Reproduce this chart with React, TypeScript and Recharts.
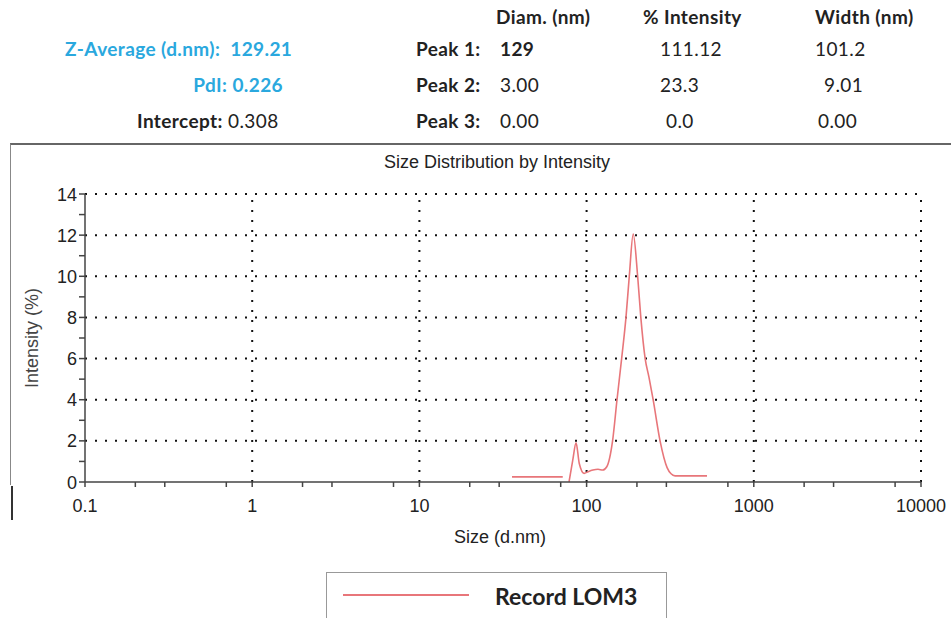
import { LineChart, Line, XAxis, YAxis, ReferenceLine } from "recharts";

// size (d.nm) vs intensity (%)
const sizes = [
  35.8, 50, 72, 75, 78.5, 82.6, 86.5, 90.4, 96.6, 102, 109, 117, 125, 132, 143,
  152, 162, 172, 180, 190, 202, 211, 224, 236, 250, 275, 303, 320, 338, 400, 525,
];
const intensity: (number | null)[] = [
  0.25, 0.25, 0.25, null, 0, 1.05, 1.9, 0.9, 0.42, 0.5, 0.58, 0.62, 0.58, 0.74, 2.0,
  4.0, 6.0, 8.0, 10.0, 12.05, 10.0, 8.0, 6.0, 5.1, 4.0, 2.0, 0.7, 0.4, 0.3, 0.3, 0.3,
];

const majorX = [0.1, 1, 10, 100, 1000, 10000];
const minorX = [0.2, 0.3, 0.7, 2, 3, 7, 20, 30, 70, 200, 300, 700, 2000, 3000, 7000];
const yTicks = [0, 1, 2, 3, 4, 5, 6, 7, 8, 9, 10, 11, 12, 13, 14];
const yGrid = [2, 4, 6, 8, 10, 12, 14];
const xGrid = [1, 10, 100, 1000, 10000];

const headCols = ["Diam. (nm)", "% Intensity", "Width (nm)"];
const peakNames = ["Peak 1:", "Peak 2:", "Peak 3:"];
const peakDiam = ["129", "3.00", "0.00"];
const peakInt = ["111.12", "23.3", "0.0"];
const peakWidth = ["101.2", "9.01", "0.00"];

const data = sizes.map((s, i) => ({ size: s, value: intensity[i] }));

const BLUE = "#2aa8de";
const RED = "#e8767a";
const hdrFont = "Lato, 'Open Sans', sans-serif";
const axFont = "'Liberation Sans', Arial, sans-serif";

const rowTop = [7, 39, 75, 111];

function Cell({ left, top, text, bold, color, right }: any) {
  return (
    <div
      style={{
        position: "absolute",
        left: right === undefined ? left : undefined,
        right: right !== undefined ? 951 - right : undefined,
        top,
        fontFamily: hdrFont,
        fontSize: 19,
        letterSpacing: 0.4,
        lineHeight: "20px",
        fontWeight: bold ? 700 : 400,
        color: color || "#222",
        whiteSpace: "pre",
      }}
    >
      {text}
    </div>
  );
}

const XTick = (props: any) => {
  const { x, y, payload } = props;
  if (!majorX.includes(payload.value)) return null;
  return (
    <text x={x} y={y + 23} textAnchor="middle" fontFamily={axFont} fontSize={18} fill="#222">
      {payload.value}
    </text>
  );
};

const YTick = (props: any) => {
  const { x, y, payload } = props;
  if (payload.value % 2 !== 0) return null;
  return (
    <text x={x} y={y} dy={6.5} textAnchor="end" fontFamily={axFont} fontSize={18} fill="#222">
      {payload.value}
    </text>
  );
};

export default function App() {
  return (
    <div style={{ position: "absolute", left: 0, top: 0, width: 951, height: 618, background: "#fff", overflow: "hidden" }}>
      {/* header table */}
      {headCols.map((c, i) => (
        <Cell key={c} left={[496, 643, 815][i]} top={rowTop[0]} text={c} bold />
      ))}
      <Cell left={65} top={rowTop[1]} text={"Z-Average (d.nm):  129.21"} bold color={BLUE} />
      <Cell right={283} top={rowTop[2]} text={"PdI: 0.226"} bold color={BLUE} />
      <div
        style={{
          position: "absolute",
          left: 137,
          top: rowTop[3],
          fontFamily: hdrFont,
          fontSize: 19,
          letterSpacing: 0.4,
          lineHeight: "20px",
          color: "#222",
          whiteSpace: "pre",
        }}
      >
        <b>Intercept:</b> 0.308
      </div>
      {peakNames.map((p, i) => (
        <div key={p}>
          <Cell left={416} top={rowTop[i + 1]} text={p} bold />
          <Cell left={500} top={rowTop[i + 1]} text={peakDiam[i]} bold={i === 0} />
          <Cell left={[660, 660, 666][i]} top={rowTop[i + 1]} text={peakInt[i]} />
          <Cell left={[815, 824, 818][i]} top={rowTop[i + 1]} text={peakWidth[i]} />
        </div>
      ))}

      {/* frame */}
      <div style={{ position: "absolute", left: 10, top: 143, width: 941, height: 340, borderTop: "2px solid #666", borderLeft: "1px solid #888" }} />
      <div style={{ position: "absolute", left: 11, top: 486, width: 2, height: 34, background: "#333" }} />

      <div
        style={{
          position: "absolute",
          left: 0,
          width: 994,
          top: 152,
          textAlign: "center",
          fontFamily: axFont,
          fontSize: 18,
          color: "#222",
        }}
      >
        Size Distribution by Intensity
      </div>

      <div style={{ position: "absolute", left: 0, top: 140 }}>
        <LineChart width={951} height={420} data={data} margin={{ top: 54, right: 30, left: 0, bottom: 0 }}>
          <XAxis
            dataKey="size"
            type="number"
            scale="log"
            domain={[0.1, 10000]}
            allowDataOverflow
            ticks={[...majorX, ...minorX].sort((a, b) => a - b)}
            interval={0}
            height={78}
            tick={<XTick />}
            tickSize={5}
            stroke="#444"
            strokeWidth={1.5}
            label={{
              content: (p: any) => {
                const vb = p.viewBox;
                return (
                  <text x={vb.x + vb.width / 2 - 3} y={vb.y + 61} textAnchor="middle" fontFamily={axFont} fontSize={18} fill="#222">
                    Size (d.nm)
                  </text>
                );
              },
            }}
          />
          <YAxis
            type="number"
            domain={[0, 14]}
            ticks={yTicks}
            interval={0}
            width={85}
            tick={<YTick />}
            tickSize={6}
            stroke="#444"
            strokeWidth={1.5}
            label={{
              content: (p: any) => {
                const vb = p.viewBox;
                const cx = 33;
                const cy = vb.y + vb.height / 2;
                return (
                  <text
                    x={cx}
                    y={cy}
                    transform={`rotate(-90 ${cx} ${cy})`}
                    textAnchor="middle"
                    dominantBaseline="middle"
                    fontFamily={axFont}
                    fontSize={18}
                    fill="#444"
                  >
                    Intensity (%)
                  </text>
                );
              },
            }}
          />
          {yGrid.map((v) => (
            <ReferenceLine key={"y" + v} y={v} stroke="#111" strokeWidth={2} strokeDasharray="2 8" />
          ))}
          {xGrid.map((v) => (
            <ReferenceLine key={"x" + v} x={v} stroke="#111" strokeWidth={2} strokeDasharray="2 8" />
          ))}
          <Line
            type="monotone"
            dataKey="value"
            stroke={RED}
            strokeWidth={1.6}
            dot={false}
            connectNulls={false}
            isAnimationActive={false}
          />
        </LineChart>
      </div>

      {/* legend */}
      <div style={{ position: "absolute", left: 326, top: 572, width: 341, height: 60, border: "1px solid #999", boxSizing: "border-box" }}>
        <div style={{ position: "absolute", left: 16, top: 21, width: 126, height: 2, background: RED }} />
        <div
          style={{
            position: "absolute",
            left: 168,
            top: 9,
            fontFamily: hdrFont,
            fontWeight: 700,
            fontSize: 23,
            color: "#222",
          }}
        >
          Record LOM3
        </div>
      </div>
    </div>
  );
}
